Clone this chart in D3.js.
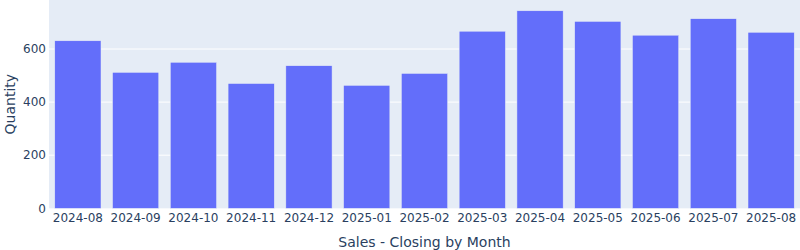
<!DOCTYPE html>
<html>
<head>
<meta charset="utf-8">
<script src="https://cdn.jsdelivr.net/npm/d3@7"></script>
<style>
  body { margin: 0; background: #fff; }
  text { font-family: "DejaVu Sans", Verdana, sans-serif; fill: #2a3f5f; }
</style>
</head>
<body>
<div id="chart"></div>
<script>
// data
var months = ['2024-08','2024-09','2024-10','2024-11','2024-12','2025-01','2025-02',
              '2025-03','2025-04','2025-05','2025-06','2025-07','2025-08'];
var quantity = [631, 512, 550, 470, 537, 463, 508, 667, 744, 704, 652, 714, 663];
var yTicks = [0, 200, 400, 600];

var w = 800, h = 250;
var margin = { left: 49, right: 0, top: 0, bottom: 42 };

var svg = d3.select('#chart')
    .append('svg')
    .attr('width', w)
    .attr('height', h);

var x = d3.scaleBand()
    .domain(months)
    .range([margin.left, w - margin.right])
    .paddingInner(0.2)
    .paddingOuter(0.1);

var y = d3.scaleLinear()
    .domain([0, 784.6])
    .range([h - margin.bottom + 0.3, margin.top]);

// plot background
svg.append('rect')
    .attr('x', margin.left)
    .attr('y', margin.top)
    .attr('width', w - margin.left - margin.right)
    .attr('height', y(0) - margin.top)
    .attr('fill', '#E5ECF6');

// grid lines
svg.selectAll('line.grid')
    .data(yTicks.filter(function (d) { return d > 0; }))
    .enter()
    .append('line')
    .attr('class', 'grid')
    .attr('x1', margin.left)
    .attr('x2', w - margin.right)
    .attr('y1', function (d) { return y(d); })
    .attr('y2', function (d) { return y(d); })
    .attr('stroke', '#fff')
    .attr('stroke-width', 1);

// bars
svg.selectAll('rect.bar')
    .data(quantity)
    .enter()
    .append('rect')
    .attr('class', 'bar')
    .attr('x', function (d, i) { return x(months[i]); })
    .attr('width', x.bandwidth())
    .attr('y', function (d) { return y(d); })
    .attr('height', function (d) { return y(0) - y(d); })
    .attr('fill', '#636efa')
    .attr('stroke', '#E5ECF6')
    .attr('stroke-width', 0.5);

// y tick labels
svg.selectAll('text.ytick')
    .data(yTicks)
    .enter()
    .append('text')
    .attr('class', 'ytick')
    .attr('x', margin.left - 3)
    .attr('y', function (d) { return y(d); })
    .attr('dy', '0.35em')
    .attr('text-anchor', 'end')
    .style('font-size', '12px')
    .text(function (d) { return d; });

// x tick labels
svg.selectAll('text.xtick')
    .data(months)
    .enter()
    .append('text')
    .attr('class', 'xtick')
    .attr('x', function (d) { return x(d) + x.bandwidth() / 2; })
    .attr('y', y(0) + 14)
    .attr('text-anchor', 'middle')
    .style('font-size', '12px')
    .text(function (d) { return d; });

// axis titles
svg.append('text')
    .attr('x', (margin.left + w - margin.right) / 2)
    .attr('y', 247)
    .attr('text-anchor', 'middle')
    .style('font-size', '14px')
    .text('Sales - Closing by Month');

svg.append('text')
    .attr('transform', 'translate(15,' + (y(0) / 2) + ') rotate(-90)')
    .attr('text-anchor', 'middle')
    .style('font-size', '14px')
    .text('Quantity');
</script>
</body>
</html>
